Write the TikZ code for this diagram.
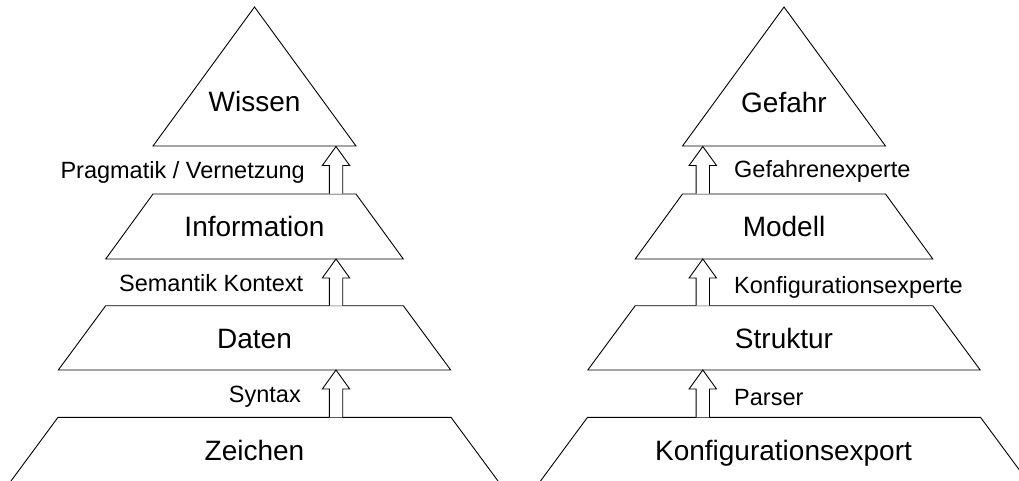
\documentclass[tikz,border=0pt]{standalone}
\usepackage{fontspec}
\setmainfont{Liberation Sans}
\usetikzlibrary{calc}

\tikzset{
  layer/.style={draw=black, line width=0.9pt, line join=miter},
  big/.style={font=\fontsize{28}{30}\selectfont, inner sep=0pt, anchor=base},
  small/.style={font=\fontsize{23.5}{26}\selectfont, inner sep=0pt},
  arrowline/.style={draw=black, line width=0.9pt, fill=white},
}

% hollow block arrow pointing up from #1 (tail) to #2 (head)
\newcommand\hollowarrow[2]{%
  \draw[arrowline] let \p1=(#1), \p2=(#2) in
    (\x1-6.7pt,\y1) -- (\x1-6.7pt,\y2-19pt) -- (\x1-13.7pt,\y2-19pt)
    -- (\x1,\y2) -- (\x1+13.7pt,\y2-19pt) -- (\x1+6.7pt,\y2-19pt)
    -- (\x1+6.7pt,\y1);}

% one pyramid of four layers centred at x = #1
\newcommand\pyramid[2]{%
  \draw[layer] (#1,-7) -- (#1+101.5,-146) -- (#1-101.5,-146) -- cycle;
  \draw[layer] (#1-101.5,-194) -- (#1+101.5,-194) -- (#1+148.8,-259) -- (#1-148.8,-259) -- cycle;
  \draw[layer] (#1-148.8,-305.7) -- (#1+148.8,-305.7) -- (#1+196.2,-370) -- (#1-196.2,-370) -- cycle;
  \draw[layer] (#1-243.5,-481) -- (#1-196.5,-417.3) -- (#1+196.5,-417.3) -- (#1+243.5,-481);
  \coordinate (#2b1) at (#1,-146);
  \coordinate (#2t2) at (#1,-194);
  \coordinate (#2b2) at (#1,-259);
  \coordinate (#2t3) at (#1,-305.7);
  \coordinate (#2b3) at (#1,-370);
  \coordinate (#2t4) at (#1,-417.3);
}

\begin{document}
\begin{tikzpicture}[x=1pt,y=1pt]
  \clip (0,0) rectangle (1019,-481);
  \fill[white] (0,0) rectangle (1019,-481);

  % left pyramid: Zeichen -> Daten -> Information -> Wissen
  \pyramid{254.5}{L}
  \node[big] (wissen) at (254.5,-112) {Wissen};
  \node[big] (information) at (254.5,-236) {Information};
  \node[big] (daten) at (254.5,-348.3) {Daten};
  \node[big] (zeichen) at (254.5,-460.7) {Zeichen};

  \coordinate (la1t) at (336,-193.5);
  \coordinate (la1h) at (336,-146.5);
  \coordinate (la2t) at (336,-305.7);
  \coordinate (la2h) at (336,-259);
  \coordinate (la3t) at (336,-417.3);
  \coordinate (la3h) at (336,-370);
  \hollowarrow{la1t}{la1h}
  \hollowarrow{la2t}{la2h}
  \hollowarrow{la3t}{la3h}

  \node[small, anchor=base east] (pragmatik) at (305,-178.3) {Pragmatik / Vernetzung};
  \node[small, anchor=base east] (semantik) at (303.5,-291) {Semantik Kontext};
  \node[small, anchor=base east] (syntax) at (301,-402.3) {Syntax};

  % right pyramid: Konfigurationsexport -> Struktur -> Modell -> Gefahr
  \pyramid{784}{R}
  \node[big] (gefahr) at (784,-112.5) {Gefahr};
  \node[big] (modell) at (784,-236) {Modell};
  \node[big] (struktur) at (784,-348.3) {Struktur};
  \node[big] (export) at (783.5,-460.7) {Konfigurationsexport};

  \coordinate (ra1t) at (702.8,-193.5);
  \coordinate (ra1h) at (702.8,-146.5);
  \coordinate (ra2t) at (702.8,-305.7);
  \coordinate (ra2h) at (702.8,-259);
  \coordinate (ra3t) at (702.8,-417.3);
  \coordinate (ra3h) at (702.8,-370);
  \hollowarrow{ra1t}{ra1h}
  \hollowarrow{ra2t}{ra2h}
  \hollowarrow{ra3t}{ra3h}

  \node[small, anchor=base west] (gefahrenexperte) at (734,-178) {Gefahrenexperte};
  \node[small, anchor=base west] (konfigexperte) at (734,-293.3) {Konfigurationsexperte};
  \node[small, anchor=base west] (parser) at (734,-405) {Parser};
\end{tikzpicture}
\end{document}
